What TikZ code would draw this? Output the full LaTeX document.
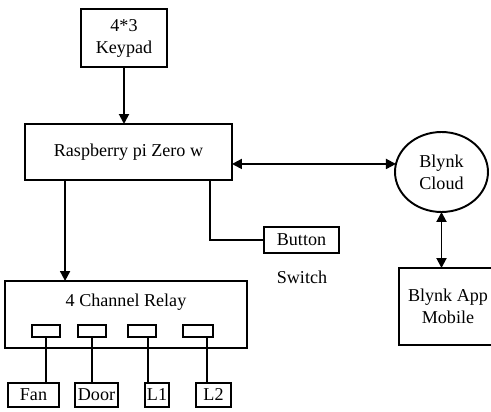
\documentclass[tikz,border=0pt]{standalone}
\usepackage{fontspec}
\setmainfont{Liberation Serif}
\usetikzlibrary{arrows.meta,shapes.geometric}
\begin{document}
\begin{tikzpicture}[x=0.02cm,y=-0.02cm,inner sep=0pt,outer sep=0pt,line width=1.1pt,
>={Triangle[length=2mm,width=2mm]},
font=\fontsize{10.3}{12.5}\selectfont,
blk/.style={draw,rectangle,align=center,line width=1.1pt},
port/.style={draw,rectangle,minimum width=0.56cm,minimum height=0.24cm},
load/.style={draw,rectangle,minimum height=0.48cm}]
\useasboundingbox (0,0) rectangle (491,412);
\draw (124,38) node[blk,minimum width=1.72cm,minimum height=1.16cm] (keypad) {4*3\\Keypad};
\draw (128.5,152) node[blk,minimum width=4.14cm,minimum height=1.12cm] (rpi) {Raspberry pi Zero w};
\draw (126,314.5) node[blk,minimum width=4.84cm,minimum height=1.34cm] (relay) {};
\draw (126,302) node (relaytxt) {4 Channel Relay};
\draw (46,331) node[port] (p1) {};
\draw (91.7,331) node[port] (p2) {};
\draw (142,331) node[port] (p3) {};
\draw (198,331) node[port,minimum width=0.6cm] (p4) {};
\draw (33.5,395) node[load,minimum width=1.02cm] (fan) {Fan};
\draw (96.5,395) node[load,minimum width=0.86cm] (door) {Door};
\draw (157,395) node[load,minimum width=0.48cm] (l1) {L1};
\draw (213.5,395) node[load,minimum width=0.70cm] (l2) {L2};
\draw (301.5,240) node[blk,minimum width=1.5cm,minimum height=0.52cm] (button) {Button};
\draw (302,277) node (switch) {Switch};
\draw (441.5,172) node[draw,ellipse,align=center,minimum width=1.86cm,minimum height=1.6cm] (cloud) {\raisebox{-4pt}{\shortstack{Blynk\\Cloud}}};
\draw (448,306.5) node[blk,minimum width=1.96cm,minimum height=1.54cm] (app) {Blynk App\\Mobile};
% connections
\draw[->] (keypad.south) -- (keypad.south |- rpi.north);
\draw[->] ([xshift=-36.1pt]rpi.south) -- ([xshift=-36.1pt]rpi.south |- relay.north);
\draw ([xshift=46.4pt]rpi.south) |- (button.west);
\draw[<->] (rpi.east |- cloud.170) -- (cloud.170);
\draw[<->] (cloud.south) -- (cloud.south |- app.north);
\draw (p1.south) -- (p1.south |- fan.north);
\draw (p2.south) -- (p2.south |- door.north);
\draw ([xshift=3.4pt]p3.south) -- ([xshift=3.4pt]p3.south |- l1.north);
\draw ([xshift=5.1pt]p4.south) -- ([xshift=5.1pt]p4.south |- l2.north);
\end{tikzpicture}
\end{document}
